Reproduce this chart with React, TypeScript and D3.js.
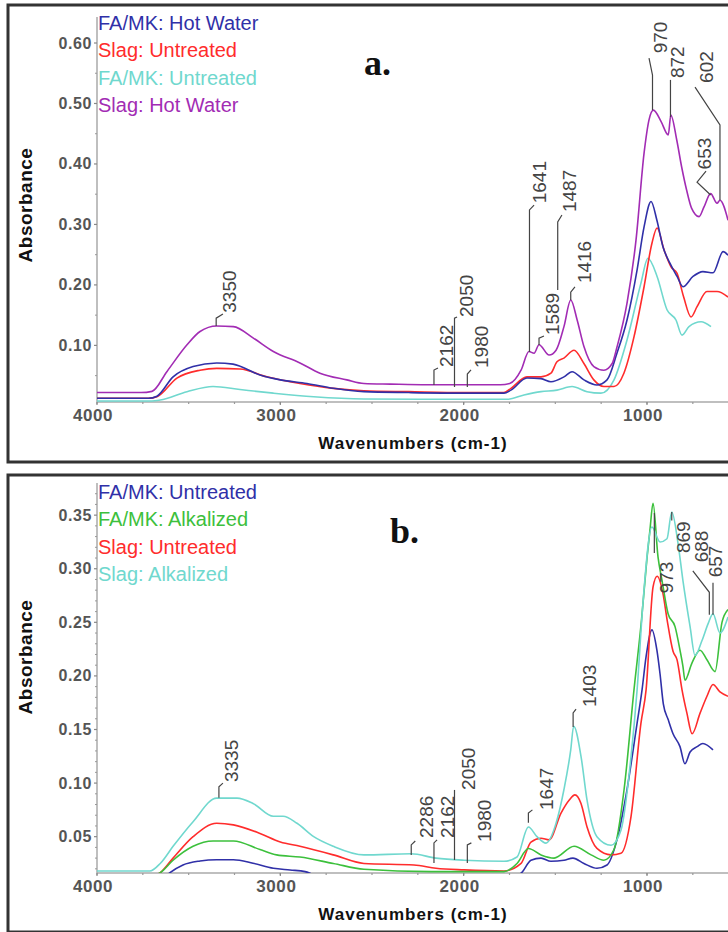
import React from 'react';
import * as d3 from 'd3';

type Pt = [number, number];

// ---------- panel a data (wavenumber cm-1, absorbance) ----------
const legendA = ['FA/MK: Hot Water', 'Slag: Untreated', 'FA/MK: Untreated', 'Slag: Hot Water'];

const faMkHotWaterA: Pt[] = [
  [4000, 0.0125], [3720, 0.0125], [3673, 0.016], [3585, 0.048], [3476, 0.065], [3347, 0.071],
  [3258, 0.069], [3111, 0.051], [3000, 0.043], [2855, 0.037], [2711, 0.029], [2544, 0.0235],
  [2300, 0.022], [2000, 0.021], [1780, 0.021], [1742, 0.026], [1655, 0.046], [1578, 0.045],
  [1524, 0.040], [1453, 0.048], [1409, 0.0565], [1344, 0.043], [1273, 0.0346], [1218, 0.043],
  [1164, 0.087], [1109, 0.142], [1054, 0.225], [1016, 0.296], [978, 0.338], [946, 0.307],
  [913, 0.263], [875, 0.236], [836, 0.214], [804, 0.197], [749, 0.214], [695, 0.222],
  [640, 0.220], [585, 0.255], [558, 0.249],
];

const slagUntreatedA: Pt[] = [
  [4000, 0.0125], [3720, 0.0125], [3673, 0.015], [3564, 0.046], [3438, 0.059], [3347, 0.062],
  [3220, 0.061], [3073, 0.048], [2893, 0.037], [2711, 0.029], [2544, 0.025], [2300, 0.0235],
  [2000, 0.022], [1780, 0.022], [1742, 0.029], [1655, 0.048], [1578, 0.048], [1524, 0.054],
  [1491, 0.073], [1453, 0.079], [1398, 0.092], [1344, 0.070], [1290, 0.043], [1235, 0.032],
  [1180, 0.032], [1126, 0.054], [1071, 0.114], [1016, 0.197], [973, 0.269], [945, 0.294],
  [907, 0.258], [869, 0.230], [836, 0.219], [800, 0.180], [760, 0.147], [727, 0.164],
  [673, 0.189], [618, 0.189], [558, 0.180],
];

const faMkUntreatedA: Pt[] = [
  [4000, 0.008], [3700, 0.008], [3655, 0.0097], [3509, 0.0235], [3367, 0.032], [3220, 0.027],
  [3038, 0.021], [2818, 0.015], [2544, 0.0114], [2000, 0.011], [1760, 0.011], [1671, 0.018],
  [1578, 0.0235], [1491, 0.026], [1409, 0.032], [1327, 0.0235], [1251, 0.021], [1180, 0.043],
  [1109, 0.109], [1033, 0.203], [995, 0.244], [945, 0.214], [891, 0.159], [842, 0.142],
  [809, 0.117], [771, 0.131], [705, 0.139], [651, 0.131],
];

const slagHotWaterA: Pt[] = [
  [4000, 0.022], [3760, 0.022], [3700, 0.024], [3618, 0.057], [3509, 0.101], [3438, 0.123],
  [3347, 0.132], [3256, 0.131], [3147, 0.112], [3038, 0.090], [2893, 0.071], [2784, 0.054],
  [2637, 0.043], [2544, 0.037], [2400, 0.036], [2200, 0.035], [2000, 0.035], [1800, 0.035],
  [1749, 0.037], [1687, 0.059], [1644, 0.090], [1616, 0.087], [1589, 0.101], [1534, 0.084],
  [1496, 0.092], [1453, 0.131], [1416, 0.175], [1381, 0.142], [1344, 0.098], [1290, 0.065],
  [1235, 0.059], [1190, 0.070], [1164, 0.097], [1109, 0.170], [1060, 0.274], [1016, 0.418],
  [989, 0.473], [965, 0.489], [923, 0.470], [884, 0.448], [870, 0.481], [838, 0.440],
  [811, 0.395], [784, 0.357], [757, 0.327], [716, 0.313], [689, 0.329], [653, 0.351],
  [618, 0.335], [602, 0.340], [558, 0.307],
];

// peak labels: leader path in data units, then text start
const peaksA = [
  { label: '3350', path: [[3350, 0.132], [3350, 0.145], [3313, 0.152]], at: [3280, 0.154] },
  { label: '2162', path: [[2162, 0.0346], [2162, 0.0593], [2140, 0.0627]], at: [2094, 0.0643] },
  { label: '2050', path: [[2050, 0.0313], [2050, 0.145], [2036, 0.147]], at: [1985, 0.147] },
  { label: '1980', path: [[1980, 0.0313], [1980, 0.0527], [1960, 0.0594]], at: [1903, 0.0627] },
  { label: '1641', path: [[1641, 0.0891], [1641, 0.324], [1616, 0.332]], at: [1584, 0.335] },
  { label: '1589', path: [[1589, 0.1007], [1589, 0.112], [1562, 0.1156]], at: [1515, 0.117] },
  { label: '1487', path: [[1487, 0.1916], [1487, 0.304], [1464, 0.3156]], at: [1425, 0.3205] },
  { label: '1416', path: [[1416, 0.175], [1416, 0.188], [1393, 0.1966]], at: [1341, 0.203] },
  { label: '970', path: [[970, 0.489], [970, 0.547], [989, 0.575]], at: [924, 0.583] },
  { label: '872', path: [[872, 0.4776], [872, 0.539]], at: [834, 0.542] },
  { label: '602', path: [[602, 0.340], [602, 0.4644], [738, 0.527]], at: [675, 0.534] },
  { label: '653', path: [[653, 0.3487], [727, 0.370], [678, 0.388]], at: [684, 0.391] },
];

// ---------- panel b data ----------
const legendB = ['FA/MK: Untreated', 'FA/MK: Alkalized', 'Slag: Untreated', 'Slag: Alkalized'];

const faMkUntreatedB: Pt[] = [
  [3620, 0.014], [3602, 0.0164], [3531, 0.0236], [3438, 0.0273], [3347, 0.0285], [3256, 0.0285],
  [3149, 0.0252], [3038, 0.0205], [2947, 0.0189], [2865, 0.0174], [2800, 0.014], [1720, 0.014],
  [1687, 0.0159], [1633, 0.028], [1578, 0.030], [1524, 0.027], [1453, 0.028], [1404, 0.030],
  [1344, 0.025], [1273, 0.0205], [1218, 0.0236], [1164, 0.047], [1109, 0.094], [1054, 0.156],
  [1027, 0.187], [1005, 0.218], [973, 0.243], [946, 0.224], [929, 0.202], [911, 0.174],
  [884, 0.159], [858, 0.146], [820, 0.134], [793, 0.118], [765, 0.129], [727, 0.134],
  [695, 0.137], [640, 0.131],
];

const faMkAlkalizedB: Pt[] = [
  [3680, 0.014], [3655, 0.0164], [3585, 0.028], [3476, 0.041], [3367, 0.046], [3256, 0.046],
  [3111, 0.038], [3020, 0.033], [2893, 0.031], [2711, 0.025], [2544, 0.0196], [2178, 0.0174],
  [1780, 0.0174], [1709, 0.025], [1647, 0.039], [1578, 0.033], [1507, 0.030], [1398, 0.041],
  [1305, 0.033], [1235, 0.028], [1180, 0.038], [1125, 0.094], [1071, 0.187], [1030, 0.252],
  [1000, 0.310], [984, 0.336], [967, 0.361], [940, 0.311], [918, 0.289], [885, 0.258],
  [847, 0.246], [820, 0.224], [804, 0.209], [793, 0.196], [755, 0.212], [711, 0.224],
  [673, 0.215], [629, 0.204], [591, 0.250], [558, 0.262],
];

const slagUntreatedB: Pt[] = [
  [3680, 0.014], [3655, 0.0164], [3585, 0.030], [3476, 0.050], [3347, 0.0625], [3256, 0.061],
  [3111, 0.053], [3000, 0.045], [2893, 0.041], [2711, 0.033], [2544, 0.025], [2271, 0.0236],
  [2151, 0.0205], [1998, 0.019], [1780, 0.018], [1687, 0.025], [1633, 0.045], [1578, 0.0485],
  [1534, 0.047], [1469, 0.072], [1425, 0.084], [1393, 0.089], [1360, 0.081], [1327, 0.059],
  [1273, 0.039], [1196, 0.033], [1142, 0.0345], [1087, 0.069], [1033, 0.156], [1005, 0.187],
  [967, 0.283], [945, 0.293], [913, 0.277], [891, 0.253], [858, 0.223], [836, 0.215],
  [809, 0.187], [782, 0.165], [754, 0.146], [711, 0.165], [673, 0.181], [640, 0.192],
  [602, 0.185], [558, 0.181],
];

const slagAlkalizedB: Pt[] = [
  [4000, 0.018], [3711, 0.018], [3655, 0.025], [3585, 0.041], [3476, 0.064], [3347, 0.086],
  [3236, 0.086], [3149, 0.081], [3038, 0.069], [2985, 0.069], [2909, 0.0625], [2818, 0.050],
  [2711, 0.041], [2544, 0.033], [2287, 0.034], [2151, 0.030], [1998, 0.028], [1780, 0.027],
  [1709, 0.031], [1647, 0.059], [1600, 0.050], [1551, 0.044], [1496, 0.0625], [1453, 0.094],
  [1416, 0.131], [1400, 0.153], [1360, 0.125], [1327, 0.084], [1273, 0.050], [1196, 0.042],
  [1142, 0.056], [1087, 0.125], [1054, 0.187], [1022, 0.268], [973, 0.339], [929, 0.325],
  [891, 0.328], [865, 0.353], [831, 0.324], [804, 0.289], [765, 0.246], [738, 0.219],
  [700, 0.233], [666, 0.249], [640, 0.258], [602, 0.240], [558, 0.255],
];

const peaksB = [
  { label: '3335', path: [[3335, 0.0862], [3335, 0.0966], [3313, 0.100]], at: [3266, 0.101] },
  { label: '2286', path: [[2286, 0.033], [2286, 0.0423], [2264, 0.046]], at: [2203, 0.0488] },
  { label: '2162', path: [[2162, 0.0255], [2162, 0.0442], [2145, 0.047]], at: [2088, 0.0488] },
  { label: '2050', path: [[2050, 0.0283], [2050, 0.0936]], at: [1971, 0.0936] },
  { label: '1980', path: [[1980, 0.0255], [1980, 0.0423], [1958, 0.0442]], at: [1886, 0.0451] },
  { label: '1647', path: [[1647, 0.063], [1647, 0.072], [1625, 0.075]], at: [1548, 0.0749] },
  { label: '1403', path: [[1403, 0.1524], [1403, 0.1654], [1387, 0.169]], at: [1311, 0.171] },
  { label: '973', path: [[960, 0.352], [960, 0.3146]], at: [894, 0.277] },
  { label: '869', path: [[865, 0.345], [865, 0.353]], at: [800, 0.3146] },
  { label: '688', path: [[660, 0.257], [660, 0.278], [750, 0.298]], at: [705, 0.306] },
  { label: '657', path: [[640, 0.257], [640, 0.287]], at: [624, 0.292] },
];

const xTicks = [4000, 3000, 2000, 1000];
const xMinor = d3.range(4000, 400, -250);
const yTicksA = [0.1, 0.2, 0.3, 0.4, 0.5, 0.6];
const yTicksB = [0.05, 0.1, 0.15, 0.2, 0.25, 0.3, 0.35];

const C = {
  blue: '#3030a8',
  red: '#ff2c2c',
  cyan: '#70d8ce',
  purple: '#a22cb4',
  green: '#3cc03c',
};

const SANS = 'Liberation Sans, Arial, sans-serif';

type PanelProps = {
  id: string;
  frameTop: number;
  axisY: number;
  topY: number;
  yDomain: [number, number];
  yTicks: number[];
  yMinorStep: number;
  legend: string[];
  legendColors: string[];
  legendY: number;
  series: { data: Pt[]; color: string }[];
  peaks: { label: string; path: number[][]; at: number[] }[];
  letter: string;
  letterX: number;
  letterY: number;
  titleY: number;
};

const x = d3.scaleLinear().domain([4000, 400]).range([97, 757]);

function Panel(p: PanelProps) {
  const y = d3.scaleLinear().domain(p.yDomain).range([p.axisY, p.topY]);
  const line = d3
    .line<Pt>()
    .x((d) => x(d[0]))
    .y((d) => y(d[1]))
    .curve(d3.curveMonotoneX);
  const lead = d3
    .line<number[]>()
    .x((d) => x(d[0]))
    .y((d) => y(d[1]));
  const yMinor = d3
    .range(Math.ceil(p.yDomain[0] / p.yMinorStep) * p.yMinorStep, p.yDomain[1], p.yMinorStep)
    .filter((v) => !p.yTicks.some((t) => Math.abs(t - v) < 1e-6));
  const axisX = x(4000);
  return (
    <g>
      <rect x={8} y={p.frameTop} width={760} height={457} fill="none" stroke="#333" strokeWidth={3} />
      <defs>
        <clipPath id={`clip-${p.id}`}>
          <rect x={axisX} y={p.topY} width={700} height={p.axisY - p.topY} />
        </clipPath>
      </defs>
      {/* axes */}
      <line x1={axisX} x2={axisX} y1={p.topY} y2={p.axisY} stroke="#aaa" strokeWidth={1.5} />
      <line x1={axisX} x2={760} y1={p.axisY} y2={p.axisY} stroke="#aaa" strokeWidth={1.5} />
      {p.yTicks.map((t) => (
        <g key={t}>
          <line x1={axisX - 3} x2={axisX} y1={y(t)} y2={y(t)} stroke="#888" strokeWidth={1.2} />
          <text
            x={axisX - 5}
            y={y(t)}
            textAnchor="end"
            dominantBaseline="central"
            fontFamily={SANS}
            fontWeight="bold"
            fontSize={16}
            fill="#555"
            letterSpacing={0.6}
          >
            {t.toFixed(2)}
          </text>
        </g>
      ))}
      {yMinor.map((t) => (
        <line key={t} x1={axisX - 2} x2={axisX} y1={y(t)} y2={y(t)} stroke="#999" strokeWidth={1} />
      ))}
      {xMinor.map((t) => (
        <line key={t} x1={x(t)} x2={x(t)} y1={p.axisY} y2={p.axisY + 2} stroke="#999" strokeWidth={1.2} />
      ))}
      {xTicks.map((t) => (
        <g key={t}>
          <line x1={x(t)} x2={x(t)} y1={p.axisY} y2={p.axisY + 3} stroke="#888" strokeWidth={1.2} />
          <text
            x={x(t) - 4}
            y={p.axisY + 13}
            textAnchor="middle"
            dominantBaseline="central"
            fontFamily={SANS}
            fontWeight="bold"
            fontSize={17}
            fill="#555"
            letterSpacing={0.6}
          >
            {t}
          </text>
        </g>
      ))}
      <text
        transform={`translate(25,${p.titleY}) rotate(-90)`}
        textAnchor="middle"
        dominantBaseline="central"
        fontFamily={SANS}
        fontWeight="bold"
        fontSize={19}
        fill="#111"
        letterSpacing={0.5}
      >
        Absorbance
      </text>
      <text
        x={413}
        y={p.axisY + 47}
        textAnchor="middle"
        fontFamily={SANS}
        fontWeight="bold"
        fontSize={17}
        fill="#111"
        letterSpacing={1}
      >
        Wavenumbers (cm-1)
      </text>
      {/* spectra */}
      <g clipPath={`url(#clip-${p.id})`}>
        {p.series.map((s, i) => (
          <path key={i} d={line(s.data) || ''} fill="none" stroke={s.color} strokeWidth={1.6} />
        ))}
      </g>
      {/* peak labels */}
      {p.peaks.map((pk) => (
        <g key={pk.label}>
          <path d={lead(pk.path) || ''} fill="none" stroke="#444" strokeWidth={1.2} />
          <text
            transform={`translate(${x(pk.at[0])},${y(pk.at[1])}) rotate(-90)`}
            textAnchor="start"
            dominantBaseline="central"
            fontFamily={SANS}
            fontSize={19}
            fill="#444"
          >
            {pk.label}
          </text>
        </g>
      ))}
      {/* legend */}
      {p.legend.map((name, i) => (
        <text
          key={name}
          x={axisX + 1}
          y={p.legendY + i * 27.3}
          fontFamily={SANS}
          fontSize={20}
          fill={p.legendColors[i]}
        >
          {name}
        </text>
      ))}
      <text
        x={p.letterX}
        y={p.letterY}
        fontFamily="Liberation Serif, Times New Roman, serif"
        fontWeight="bold"
        fontSize={36}
        fill="#111"
      >
        {p.letter}
      </text>
    </g>
  );
}

export default function App() {
  return (
    <svg
      width={728}
      height={932}
      style={{ position: 'absolute', left: 0, top: 0, background: '#fff' }}
    >
      <rect x={0} y={0} width={728} height={932} fill="#fff" />
      <Panel
        id="a"
        frameTop={5}
        axisY={402}
        topY={17}
        yDomain={[0.0064, 0.643]}
        yTicks={yTicksA}
        yMinorStep={0.05}
        legend={legendA}
        legendColors={[C.blue, C.red, C.cyan, C.purple]}
        legendY={30}
        series={[
          { data: faMkUntreatedA, color: C.cyan },
          { data: slagUntreatedA, color: C.red },
          { data: faMkHotWaterA, color: C.blue },
          { data: slagHotWaterA, color: C.purple },
        ]}
        peaks={peaksA}
        letter="a."
        letterX={364}
        letterY={75}
        titleY={205}
      />
      <Panel
        id="b"
        frameTop={475}
        axisY={873}
        topY={483}
        yDomain={[0.0161, 0.38]}
        yTicks={yTicksB}
        yMinorStep={0.01}
        legend={legendB}
        legendColors={[C.blue, C.green, C.red, C.cyan]}
        legendY={499}
        series={[
          { data: faMkUntreatedB, color: C.blue },
          { data: slagUntreatedB, color: C.red },
          { data: faMkAlkalizedB, color: C.green },
          { data: slagAlkalizedB, color: C.cyan },
        ]}
        peaks={peaksB}
        letter="b."
        letterX={390}
        letterY={543}
        titleY={657}
      />
    </svg>
  );
}
